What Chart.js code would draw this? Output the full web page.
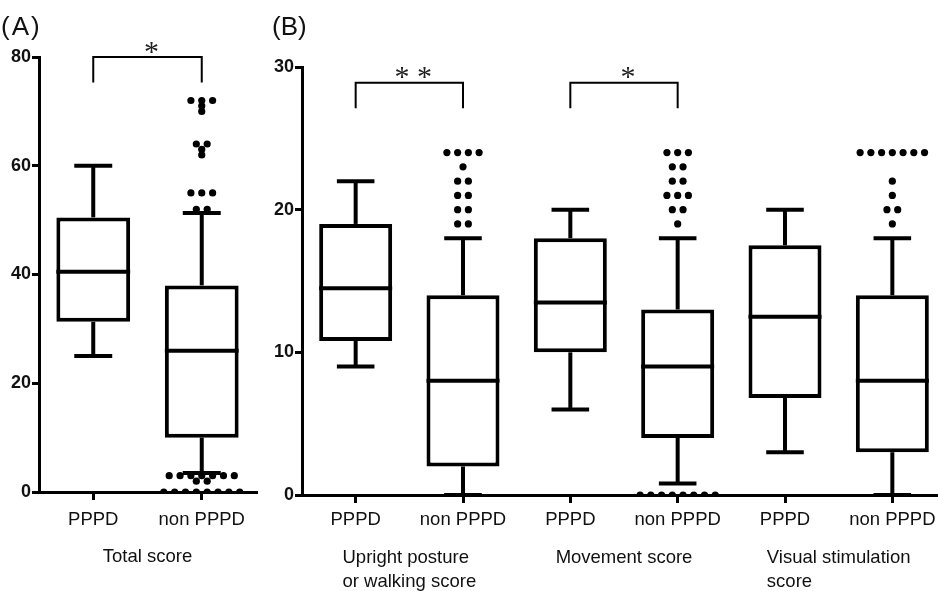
<!DOCTYPE html>
<html>
<head>
<meta charset="utf-8">
<script src="https://cdn.jsdelivr.net/npm/chart.js@4.4.1/dist/chart.umd.min.js"></script>
<style>
  html, body { margin: 0; padding: 0; background: #fff; width: 938px; height: 591px; overflow: hidden; }
  .wrap { position: absolute; top: 0; height: 591px; }
  #wrapA { left: 0; width: 260px; }
  #wrapB { left: 240px; width: 720px; }
  .panel { position: absolute; top: 11px; font: 26px "Liberation Sans", Arial, sans-serif; color: #111; line-height: 30px; }
</style>
</head>
<body>
<div class="wrap" id="wrapA"><canvas id="chartA"></canvas></div>
<div class="wrap" id="wrapB"><canvas id="chartB"></canvas></div>
<div class="panel" style="left:1px;letter-spacing:2px">(A)</div>
<div class="panel" style="left:272px">(B)</div>
<script>
// (A) Total score
const groupsA = ['PPPD', 'non PPPD'];
const titlesA = [['Total score']];
const minA = [25, 3.5];
const q1A = [31.3, 10];
const medA = [40.5, 26];
const q3A = [50.5, 38];
const maxA = [60, 51.3];
const outliersA = [
  [],
  [72, 72, 72, 71, 70, 64, 64, 63, 62, 55, 55, 55, 52, 52, 3, 3, 3, 3, 3, 3, 3, 2, 2, 0, 0, 0, 0, 0, 0, 0, 0]
];
const ticksA = [0, 20, 40, 60, 80];
const bracketsA = [{ from: 0, to: 1, top: 80, foot: 75.3, mark: '*' }];

// (B) sub scores
const groupsB = ['PPPD', 'non PPPD', 'PPPD', 'non PPPD', 'PPPD', 'non PPPD'];
const titlesB = [['Upright posture', 'or walking score'], ['Movement score'], ['Visual stimulation', 'score']];
const minB = [9, 0, 6, 0.8, 3, 0];
const q1B = [10.8, 2, 10, 4, 6.8, 3];
const medB = [14.5, 8, 13.5, 9, 12.5, 8];
const q3B = [19, 14, 18, 13, 17.5, 14];
const maxB = [22, 18, 20, 18, 20, 18];
const outliersB = [
  [],
  [24, 24, 24, 24, 23, 22, 22, 21, 21, 20, 20, 19, 19],
  [],
  [24, 24, 24, 23, 23, 22, 22, 21, 21, 21, 20, 20, 19, 0, 0, 0, 0, 0, 0, 0, 0],
  [],
  [24, 24, 24, 24, 24, 24, 24, 22, 21, 20, 20, 19]
];
const ticksB = [0, 10, 20, 30];
const bracketsB = [
  { from: 0, to: 1, top: 28.9, foot: 27.1, mark: '* *' },
  { from: 2, to: 3, top: 28.9, foot: 27.1, mark: '*' }
];

const FONT = '"Liberation Sans", Arial, sans-serif';
const INK = '#111';

function boxChart(id, d) {
  const xs = d.groups.map((g, i) => i + 0.5);
  const boxes = xs.map((x, i) => ({ x: x, y: [d.q1[i], d.q3[i]] }));

  // outliers with the same value are spread side by side
  const dots = [];
  d.outliers.forEach((vals, i) => {
    const counts = new Map();
    vals.forEach(v => counts.set(v, (counts.get(v) || 0) + 1));
    counts.forEach((n, v) => {
      for (let j = 0; j < n; j++) dots.push({ x: xs[i] + (j - (n - 1) / 2) * 0.1, y: v });
    });
  });

  const parts = {
    id: 'boxParts',
    afterDatasetsDraw(chart) {
      const { ctx } = chart;
      const x = chart.scales.x, y = chart.scales.y;
      const unit = x.getPixelForValue(1) - x.getPixelForValue(0);
      const cap = unit * 0.175, half = unit * 0.34;
      const seg = (x1, y1, x2, y2) => { ctx.beginPath(); ctx.moveTo(x1, y1); ctx.lineTo(x2, y2); ctx.stroke(); };
      ctx.save();
      ctx.strokeStyle = '#000';
      ctx.lineWidth = 4;
      xs.forEach((v, i) => {
        const px = x.getPixelForValue(v);
        const yMax = y.getPixelForValue(d.max[i]), yMin = y.getPixelForValue(d.min[i]);
        seg(px, y.getPixelForValue(d.q3[i]), px, yMax);
        seg(px, y.getPixelForValue(d.q1[i]), px, yMin);
        seg(px - cap, yMax, px + cap, yMax);
        seg(px - cap, yMin, px + cap, yMin);
        const yMed = y.getPixelForValue(d.med[i]);
        seg(px - half, yMed, px + half, yMed);
      });

      // significance brackets
      ctx.lineWidth = 2;
      ctx.font = '30px "Liberation Serif", "Times New Roman", serif';
      ctx.fillStyle = '#222';
      ctx.textAlign = 'center';
      ctx.textBaseline = 'alphabetic';
      d.brackets.forEach(b => {
        const x1 = x.getPixelForValue(xs[b.from]), x2 = x.getPixelForValue(xs[b.to]);
        const yt = y.getPixelForValue(b.top), yf = y.getPixelForValue(b.foot);
        ctx.beginPath();
        ctx.moveTo(x1, yf); ctx.lineTo(x1, yt); ctx.lineTo(x2, yt); ctx.lineTo(x2, yf);
        ctx.stroke();
        const m = ctx.measureText(b.mark);
        const target = yt - 10;
        ctx.fillText(b.mark, (x1 + x2) / 2 + 4, target + (m.actualBoundingBoxAscent - m.actualBoundingBoxDescent) / 2);
      });

      // group titles under the axis, lines left aligned inside a centred block
      ctx.font = '18.5px ' + FONT;
      ctx.fillStyle = INK;
      ctx.textAlign = 'left';
      ctx.textBaseline = 'middle';
      const per = d.groups.length / d.titles.length;
      d.titles.forEach((lines, k) => {
        const cx = x.getPixelForValue(k * per + per / 2);
        const w = Math.max(...lines.map(t => ctx.measureText(t).width));
        lines.forEach((t, j) => ctx.fillText(t, cx - w / 2, chart.chartArea.bottom + d.titleGap + j * 24));
      });
      ctx.restore();
    }
  };

  return new Chart(document.getElementById(id), {
    type: 'bar',
    data: {
      datasets: [
        {
          type: 'bar',
          data: boxes,
          backgroundColor: '#fff',
          borderColor: '#000',
          borderWidth: 4,
          borderSkipped: false,
          barPercentage: 0.68,
          categoryPercentage: 1,
          grouped: false
        },
        {
          type: 'scatter',
          data: dots,
          pointRadius: 3.6,
          pointBackgroundColor: '#000',
          pointBorderWidth: 0,
          clip: 0
        }
      ]
    },
    options: {
      responsive: true,
      maintainAspectRatio: false,
      animation: false,
      layout: { padding: d.padding },
      plugins: { legend: { display: false }, tooltip: { enabled: false } },
      scales: {
        x: {
          type: 'linear',
          min: 0,
          max: d.groups.length,
          offset: false,
          afterBuildTicks: s => { s.ticks = xs.map(v => ({ value: v })); },
          afterFit: s => { s.height = 40; },
          ticks: {
            autoSkip: false,
            maxRotation: 0,
            padding: d.labelPad,
            color: INK,
            font: { family: FONT, size: 18.5 },
            callback: (v, i) => d.groups[i]
          },
          grid: { drawOnChartArea: false, offset: false, tickLength: 8, lineWidth: 3, color: '#000' },
          border: { display: true, width: 3, color: '#000' }
        },
        y: {
          min: 0,
          max: d.ticks[d.ticks.length - 1],
          afterBuildTicks: s => { s.ticks = d.ticks.map(v => ({ value: v })); },
          afterFit: s => { s.width = d.axisWidth; },
          ticks: {
            padding: 1,
            color: INK,
            font: { family: FONT, size: 18, weight: 'bold' }
          },
          grid: { drawOnChartArea: false, tickLength: 7, lineWidth: 3, color: '#000' },
          border: { display: true, width: 3, color: '#000' }
        }
      }
    },
    plugins: [parts]
  });
}

boxChart('chartA', {
  groups: groupsA, titles: titlesA, min: minA, q1: q1A, med: medA, q3: q3A, max: maxA,
  outliers: outliersA, ticks: ticksA, brackets: bracketsA,
  axisWidth: 39, padding: { top: 57, right: 2, bottom: 59, left: 0 }, labelPad: 9, titleGap: 65
});

boxChart('chartB', {
  groups: groupsB, titles: titlesB, min: minB, q1: q1B, med: medB, q3: q3B, max: maxB,
  outliers: outliersB, ticks: ticksB, brackets: bracketsB,
  axisWidth: 62, padding: { top: 67, right: 14, bottom: 56, left: 0 }, labelPad: 6, titleGap: 63
});
</script>
</body>
</html>
